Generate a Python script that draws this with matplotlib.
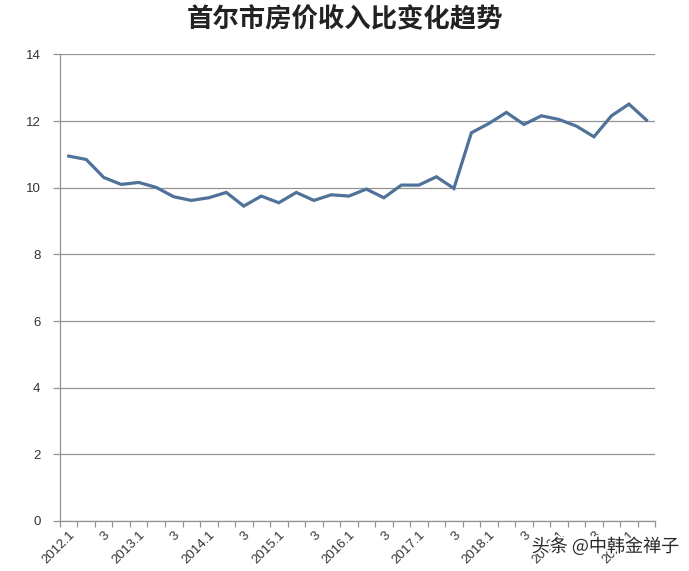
import matplotlib
matplotlib.use("Agg")
import matplotlib.pyplot as plt
import matplotlib.patheffects as pe
from matplotlib.ticker import FixedLocator

plt.rcParams['font.family'] = ['Noto Sans CJK SC', 'DejaVu Sans']

title = "首尔市房价收入比变化趋势"
years = list(range(2012, 2021))
quarters = [f"{y}.{q}" for y in years for q in (1, 2, 3, 4)][:34]
values = [10.95, 10.85, 10.31, 10.10, 10.16, 10.01, 9.73, 9.62, 9.70, 9.86,
          9.45, 9.75, 9.55, 9.86, 9.62, 9.79, 9.75, 9.96, 9.70, 10.08,
          10.08, 10.33, 9.98, 11.65, 11.93, 12.26, 11.90, 12.16, 12.05, 11.85,
          11.53, 12.16, 12.51, 12.03]
tick_labels = [q if q.endswith(".1") else ("3" if q.endswith(".3") else "") for q in quarters]
yticks = [0, 2, 4, 6, 8, 10, 12, 14]
watermark = "头条 @中韩金禅子"

fig = plt.figure(figsize=(6.89, 5.71), dpi=100)
ax = fig.add_axes([0.087, 0.0876, 0.864, 0.817])

x = list(range(len(values)))
ax.plot(x, values, color="#4E7298", lw=2.3, solid_joinstyle="miter", zorder=3)

ax.set_xlim(-0.5, len(values) - 0.5)
ax.set_ylim(0, 14)
ax.set_yticks(yticks)
ax.yaxis.grid(True, color="#939393", lw=0.9)
ax.set_axisbelow(True)

ax.set_xticks(x)
ax.set_xticklabels(tick_labels, rotation=45, ha="right", va="top",
                   rotation_mode="anchor", fontsize=9.5, color="#333333",
                   family=["Liberation Sans", "DejaVu Sans"])
ax.tick_params(axis="x", which="major", length=0, pad=6)
ax.xaxis.set_minor_locator(FixedLocator([i - 0.5 for i in range(len(values) + 1)]))
ax.tick_params(axis="x", which="minor", length=4, color="#939393", width=0.9)
ax.tick_params(axis="y", length=5, color="#939393", width=0.9, labelsize=9.5,
               labelcolor="#333333", pad=9)
for lab in ax.get_yticklabels():
    lab.set_family(["Liberation Sans", "DejaVu Sans"])

for s in ("top", "right"):
    ax.spines[s].set_visible(False)
for s in ("left", "bottom"):
    ax.spines[s].set_color("#939393")
    ax.spines[s].set_linewidth(0.9)

fig.text(0.5, 0.965, title, ha="center", va="center", fontsize=19,
         fontweight="bold", color="#222222")
fig.text(0.985, 0.043, watermark, ha="right", va="center", fontsize=13,
         color="#2a2a2a",
         path_effects=[pe.withStroke(linewidth=2.5, foreground="white")])

fig.savefig("out.png", dpi=100)
